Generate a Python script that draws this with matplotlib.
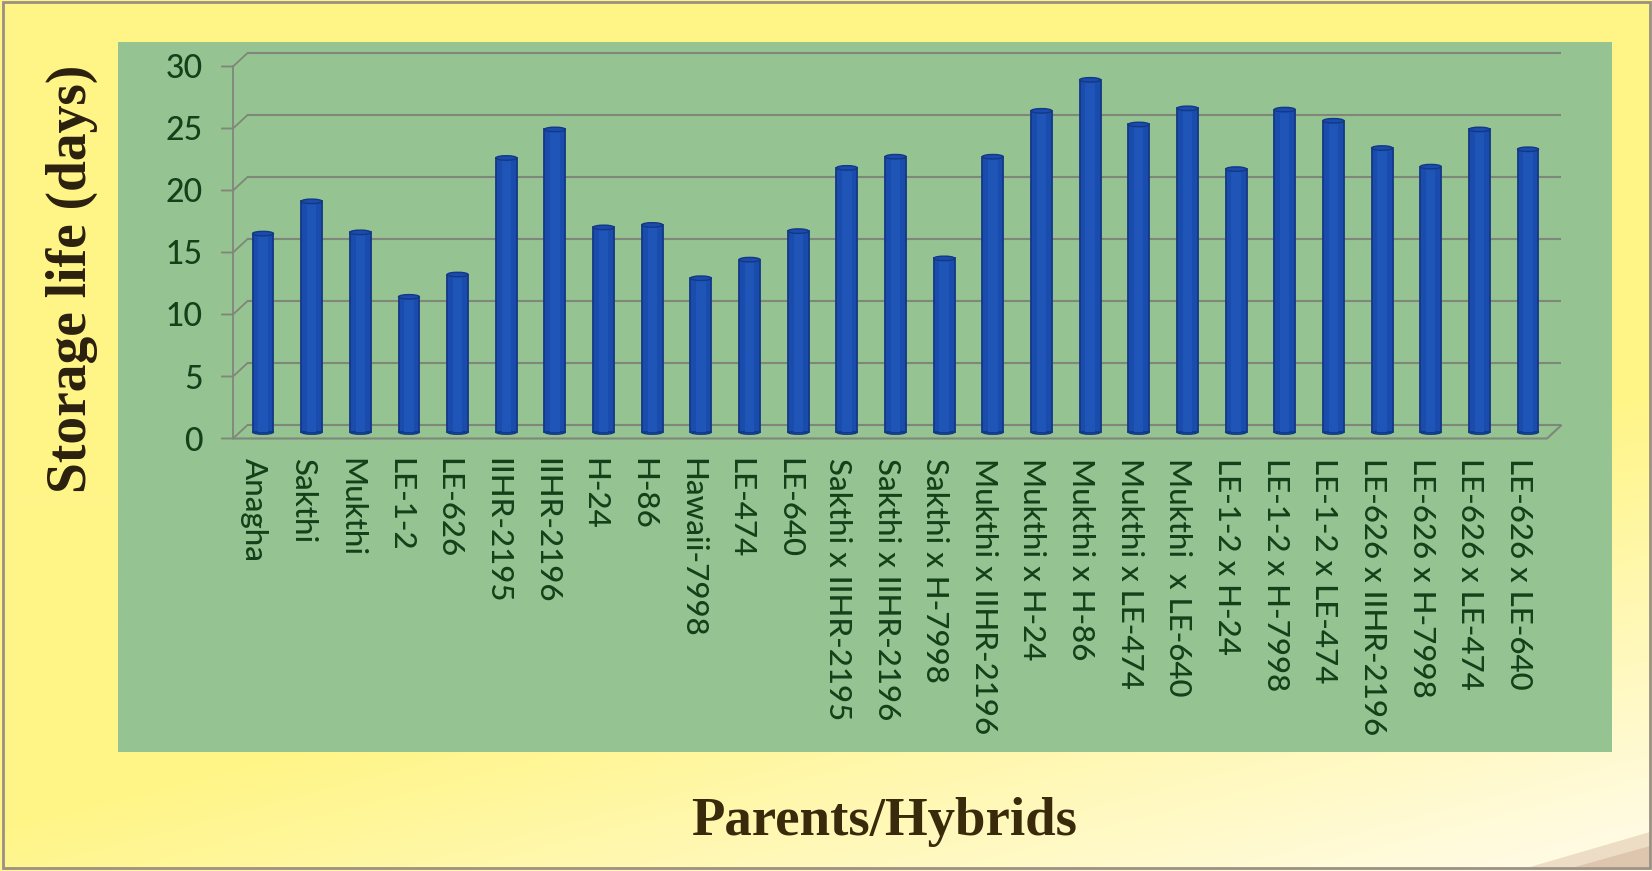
import numpy as np
import matplotlib
matplotlib.use("Agg")
import matplotlib.pyplot as plt
from matplotlib.patches import Rectangle, Ellipse, Polygon
from matplotlib.transforms import ScaledTranslation

# ---- data ----
genotypes = [
    "Anagha", "Sakthi", "Mukthi", "LE-1-2", "LE-626", "IIHR-2195", "IIHR-2196",
    "H-24", "H-86", "Hawaii-7998", "LE-474", "LE-640",
    "Sakthi x IIHR-2195", "Sakthi x IIHR-2196", "Sakthi x H-7998",
    "Mukthi x IIHR-2196", "Mukthi x H-24", "Mukthi x H-86", "Mukthi x LE-474",
    "Mukthi  x LE-640", "LE-1-2 x H-24", "LE-1-2 x H-7998", "LE-1-2 x LE-474",
    "LE-626 x IIHR-2196", "LE-626 x H-7998", "LE-626 x LE-474", "LE-626 x LE-640",
]
storage_days = [
    16.0, 18.6, 16.1, 10.9, 12.7, 22.1, 24.4,
    16.5, 16.7, 12.4, 13.9, 16.2,
    21.3, 22.2, 14.0,
    22.2, 25.9, 28.4, 24.8,
    26.1, 21.2, 26.0, 25.1,
    22.9, 21.4, 24.4, 22.8,
]
y_ticks = [0, 5, 10, 15, 20, 25, 30]

# ---- canvas ----
W, H, DPI = 1652, 871, 100
fig = plt.figure(figsize=(W / DPI, H / DPI), dpi=DPI)

# background layer in pixel coordinates
bg = fig.add_axes([0, 0, 1, 1], zorder=-10)
bg.set_xlim(0, W)
bg.set_ylim(H, 0)
bg.axis("off")

yy, xx = np.mgrid[0:H, 0:W]
xf, yf = xx / W, yy / H
w = np.clip((0.5 * xf + 1.0 * yf - 0.95) / 0.5, 0, 1)[..., None]
yellow = np.array([255, 245, 135]) / 255
cream = np.array([255, 251, 226]) / 255
grad = yellow * (1 - w) + cream * w
bg.imshow(grad, extent=(0, W, H, 0), aspect="auto", zorder=0)

# page curl shading in the lower right corner
bg.add_patch(Polygon([(1530, 867), (1650, 832), (1650, 867)],
                     closed=True, color="#dcc0ab", alpha=0.5, lw=0, zorder=1))
bg.add_patch(Polygon([(1575, 867), (1650, 846), (1650, 867)],
                     closed=True, color="#c9a58c", alpha=0.4, lw=0, zorder=1))

# outer frame
bg.add_patch(Rectangle((2.5, 2.5), W - 5, H - 6, fill=False,
                       edgecolor="#9a9084", lw=2.0, zorder=2))

# green chart area
bg.add_patch(Rectangle((118, 42), 1612 - 118, 752 - 42,
                       facecolor="#95c391", edgecolor="none", zorder=1))

# ---- plot axes (mid-depth plane of the 3-D box) ----
PXX = 48.65   # pixels per category
PXY = 12.4    # pixels per day
x0, x1 = -0.473, 26.534
ax = fig.add_axes([240 / W, 1 - 432 / H, 1314 / W, 372 / H])
ax.set_xlim(x0, x1)
ax.set_ylim(0, 30)
ax.patch.set_visible(False)
for s in ax.spines.values():
    s.set_visible(False)

dxb = 7 / PXX      # half depth, horizontal (category units)
dyb = 6.5 / PXY    # half depth, vertical (day units)
grid_c = "#7f877a"

# back wall gridlines
for v in y_ticks:
    ax.plot([x0 + dxb, x1 + dxb], [v + dyb, v + dyb], color=grid_c, lw=1.5,
            clip_on=False, zorder=1, solid_capstyle="butt")
    # side wall diagonal + outward tick
    ax.plot([x0 - dxb - 11 / PXX, x0 - dxb, x0 + dxb],
            [v - dyb, v - dyb, v + dyb], color=grid_c, lw=1.3,
            clip_on=False, zorder=1)

# front vertical axis line
ax.plot([x0 - dxb, x0 - dxb], [-dyb, 30 - dyb], color=grid_c, lw=1.3,
        clip_on=False, zorder=1)
# floor front edge and right edge
ax.plot([x0 - dxb, x1 - dxb, x1 + dxb], [-dyb, -dyb, dyb], color=grid_c,
        lw=1.5, clip_on=False, zorder=1)

# ---- cylinder-like bars ----
x = np.arange(len(genotypes))
bw = 0.43
cap_h = 4.5 / PXY
ax.bar(x, storage_days, width=bw, color="#1a4cad", edgecolor="#133885",
       linewidth=1.3, zorder=3, clip_on=False)
ax.bar(x, storage_days, width=bw * 0.45, color="#1f55b6", linewidth=0,
       zorder=3.2, clip_on=False)
for xi, v in zip(x, storage_days):
    ax.add_patch(Ellipse((xi, v), bw, cap_h, facecolor="#1a4cad",
                         edgecolor="#133885", lw=1.0, zorder=3.3,
                         clip_on=False))
    ax.add_patch(Ellipse((xi, 0), bw, cap_h, facecolor="#1a4cad",
                         edgecolor="#133885", lw=1.0, zorder=2.9,
                         clip_on=False))

# ---- tick labels ----
label_c = "#15401a"
tick_font = "Lato"
ax.set_yticks(y_ticks)
ax.set_yticklabels([str(t) for t in y_ticks], fontsize=23, color=label_c,
                   family=tick_font, weight="medium")
ax.tick_params(axis="y", length=0, pad=27)
for lab in ax.get_yticklabels():
    lab.set_transform(lab.get_transform() +
                      ScaledTranslation(0, -dyb * PXY / DPI, fig.dpi_scale_trans))

ax.set_xticks(x)
ax.set_xticklabels(genotypes, rotation=-90, fontsize=22.5, color=label_c,
                   family=tick_font, weight="medium", ha="center", va="top")
ax.tick_params(axis="x", length=0, pad=19)
for lab in ax.get_xticklabels():
    lab.set_transform(lab.get_transform() +
                      ScaledTranslation(-9 / DPI, 0, fig.dpi_scale_trans))

# ---- axis titles ----
title_font = "Liberation Serif"
fig.text(72 / W, 1 - 279 / H, "Storage life (days)", rotation=90,
         ha="center", va="center", family=title_font, weight="bold",
         fontsize=40, color="#2b200e")
fig.text(884 / W, 1 - 822 / H, "Parents/Hybrids", ha="center", va="center",
         family=title_font, weight="bold", fontsize=39.5, color="#3a2a0c")

fig.savefig("out.png", dpi=DPI)
